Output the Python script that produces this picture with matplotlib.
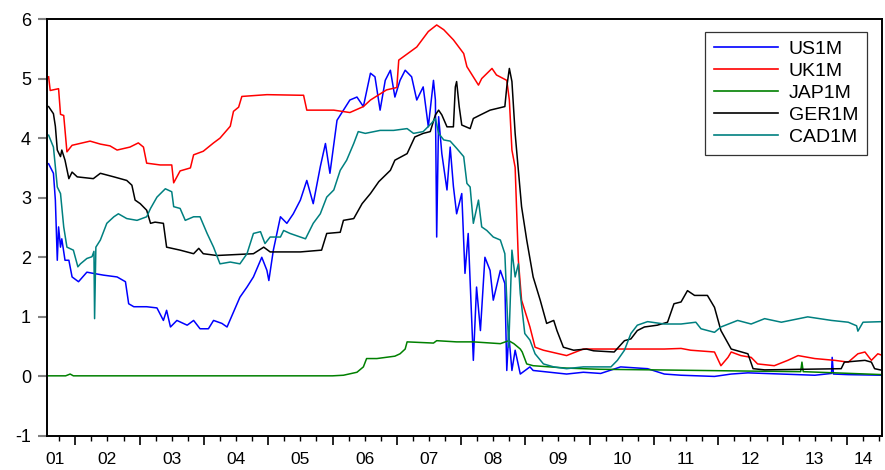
import matplotlib
matplotlib.use("Agg")
import matplotlib.pyplot as plt
import matplotlib.transforms as mtransforms

plt.rcParams['font.family'] = ['Liberation Sans', 'DejaVu Sans']

# ---------------- data (decimal year, percent) ----------------
us_t = [2001.585, 2001.66, 2001.69, 2001.72, 2001.74, 2001.77, 2001.79, 2001.84, 2001.90, 2001.95,
        2002.05, 2002.18, 2002.28, 2002.44, 2002.65, 2002.78, 2002.83, 2002.91, 2003.11, 2003.27,
        2003.37, 2003.42, 2003.48, 2003.58, 2003.74, 2003.84, 2003.94, 2004.07, 2004.15, 2004.28,
        2004.36, 2004.46, 2004.56, 2004.67, 2004.77, 2004.90, 2004.98, 2005.01, 2005.08, 2005.19,
        2005.29, 2005.39, 2005.50, 2005.60, 2005.70, 2005.81, 2005.89, 2005.96, 2006.07, 2006.17,
        2006.27, 2006.38, 2006.48, 2006.59, 2006.66, 2006.74, 2006.82, 2006.90, 2006.97, 2007.05,
        2007.13, 2007.23, 2007.31, 2007.41, 2007.49, 2007.57, 2007.60, 2007.62, 2007.65, 2007.70,
        2007.78, 2007.83, 2007.88, 2007.93, 2008.01, 2008.06, 2008.11, 2008.19, 2008.24, 2008.30,
        2008.37, 2008.45, 2008.50, 2008.61, 2008.68, 2008.71, 2008.74, 2008.79, 2008.84, 2008.92,
        2009.07, 2009.12, 2009.38, 2009.64, 2009.90, 2010.17, 2010.48, 2010.90, 2011.16, 2011.42,
        2011.94, 2012.20, 2012.46, 2012.98, 2013.50, 2013.76, 2013.77, 2013.79, 2014.02, 2014.56]
us_v = [3.57, 3.41, 2.96, 1.95, 2.51, 2.17, 2.31, 1.95, 1.95, 1.67,
        1.59, 1.75, 1.73, 1.70, 1.67, 1.59, 1.22, 1.17, 1.17, 1.15,
        0.94, 1.11, 0.83, 0.94, 0.86, 0.94, 0.80, 0.80, 0.94, 0.89,
        0.83, 1.08, 1.33, 1.50, 1.67, 2.00, 1.78, 1.61, 2.12, 2.68,
        2.57, 2.73, 2.96, 3.29, 2.90, 3.52, 3.91, 3.41, 4.30, 4.47,
        4.64, 4.69, 4.53, 5.09, 5.03, 4.47, 4.97, 5.14, 4.69, 4.97,
        5.14, 5.03, 4.64, 4.86, 4.19, 4.97, 4.64, 2.34, 4.36, 3.74,
        3.13, 3.85, 3.19, 2.73, 3.07, 1.73, 2.40, 0.27, 1.50, 0.77,
        2.00, 1.78, 1.28, 1.78, 1.56, 0.10, 0.72, 0.10, 0.44, 0.04,
        0.16, 0.10, 0.07, 0.04, 0.07, 0.05, 0.16, 0.13, 0.04, 0.02,
        0.00, 0.04, 0.06, 0.04, 0.02, 0.05, 0.32, 0.04, 0.03, 0.02]

uk_t = [2001.585, 2001.61, 2001.74, 2001.77, 2001.82, 2001.87, 2001.95, 2002.23, 2002.39, 2002.54,
        2002.65, 2002.85, 2002.98, 2003.06, 2003.11, 2003.32, 2003.50, 2003.53, 2003.63, 2003.79,
        2003.84, 2003.99, 2004.15, 2004.25, 2004.41, 2004.46, 2004.54, 2004.59, 2004.98, 2005.50,
        2005.55, 2005.60, 2006.02, 2006.27, 2006.48, 2006.59, 2006.84, 2007.00, 2007.03, 2007.31,
        2007.49, 2007.62, 2007.73, 2007.88, 2008.04, 2008.09, 2008.27, 2008.32, 2008.48, 2008.55,
        2008.71, 2008.75, 2008.79, 2008.84, 2008.89, 2008.94, 2009.07, 2009.15, 2009.28, 2009.64,
        2009.90, 2010.38, 2011.16, 2011.42, 2011.57, 2011.94, 2012.04, 2012.15, 2012.20, 2012.35,
        2012.51, 2012.61, 2012.87, 2013.08, 2013.24, 2013.50, 2013.81, 2014.02, 2014.17, 2014.28,
        2014.38, 2014.48, 2014.56]
uk_v = [5.03, 4.80, 4.83, 4.40, 4.38, 3.77, 3.88, 3.95, 3.90, 3.87,
        3.80, 3.85, 3.92, 3.85, 3.58, 3.55, 3.55, 3.25, 3.45, 3.50,
        3.72, 3.78, 3.92, 4.00, 4.20, 4.45, 4.52, 4.70, 4.73, 4.72,
        4.72, 4.47, 4.47, 4.43, 4.53, 4.64, 4.81, 4.85, 5.31, 5.53,
        5.79, 5.90, 5.82, 5.65, 5.42, 5.20, 4.89, 5.00, 5.17, 5.06,
        4.97, 4.64, 3.80, 3.51, 1.95, 1.28, 0.83, 0.49, 0.44, 0.35,
        0.46, 0.46, 0.46, 0.47, 0.44, 0.41, 0.18, 0.32, 0.41, 0.35,
        0.32, 0.21, 0.18, 0.27, 0.35, 0.30, 0.27, 0.24, 0.38, 0.41,
        0.27, 0.38, 0.35]

jap_t = [2001.585, 2001.85, 2001.92, 2001.97, 2006.00, 2006.17, 2006.38, 2006.48, 2006.53, 2006.69,
         2006.97, 2007.05, 2007.13, 2007.16, 2007.57, 2007.62, 2007.93, 2008.19, 2008.61, 2008.74,
         2008.82, 2008.92, 2008.95, 2009.02, 2009.12, 2009.38, 2009.64, 2010.16, 2011.00, 2012.46,
         2013.28, 2013.30, 2013.32, 2014.56]
jap_v = [0.01, 0.01, 0.04, 0.01, 0.01, 0.02, 0.07, 0.16, 0.30, 0.30,
         0.34, 0.38, 0.46, 0.58, 0.56, 0.60, 0.58, 0.58, 0.55, 0.60,
         0.55, 0.46, 0.41, 0.21, 0.18, 0.16, 0.14, 0.12, 0.11, 0.09,
         0.08, 0.24, 0.08, 0.03]

ger_t = [2001.585, 2001.66, 2001.69, 2001.72, 2001.77, 2001.79, 2001.84, 2001.90, 2001.95, 2002.03,
         2002.28, 2002.39, 2002.60, 2002.80, 2002.88, 2002.93, 2003.01, 2003.11, 2003.17, 2003.24,
         2003.37, 2003.42, 2003.63, 2003.84, 2003.92, 2003.99, 2004.20, 2004.77, 2004.93, 2005.03,
         2005.50, 2005.83, 2005.91, 2006.12, 2006.17, 2006.33, 2006.46, 2006.59, 2006.72, 2006.90,
         2006.97, 2007.16, 2007.28, 2007.41, 2007.52, 2007.60, 2007.65, 2007.70, 2007.78, 2007.88,
         2007.91, 2007.93, 2007.97, 2008.01, 2008.14, 2008.19, 2008.30, 2008.45, 2008.68, 2008.71,
         2008.75, 2008.79, 2008.84, 2008.89, 2008.94, 2009.02, 2009.12, 2009.23, 2009.33, 2009.44,
         2009.49, 2009.59, 2009.75, 2009.95, 2010.06, 2010.38, 2010.54, 2010.64, 2010.74, 2010.85,
         2011.05, 2011.21, 2011.31, 2011.42, 2011.52, 2011.63, 2011.83, 2011.94, 2012.04, 2012.20,
         2012.46, 2012.54, 2012.72, 2013.91, 2013.96, 2014.28, 2014.38, 2014.43, 2014.56]
ger_v = [4.53, 4.41, 4.20, 3.80, 3.69, 3.80, 3.63, 3.32, 3.43, 3.35,
         3.32, 3.41, 3.35, 3.29, 3.21, 2.96, 2.90, 2.79, 2.57, 2.59,
         2.57, 2.17, 2.12, 2.06, 2.15, 2.06, 2.03, 2.06, 2.17, 2.09,
         2.09, 2.12, 2.40, 2.42, 2.62, 2.65, 2.90, 3.07, 3.27, 3.46,
         3.63, 3.74, 4.02, 4.08, 4.11, 4.39, 4.47, 4.39, 4.19, 4.19,
         4.86, 4.95, 4.53, 4.22, 4.16, 4.33, 4.39, 4.47, 4.53, 4.86,
         5.17, 4.95, 4.08, 3.46, 2.85, 2.29, 1.67, 1.28, 0.89, 0.94,
         0.77, 0.49, 0.44, 0.46, 0.43, 0.41, 0.60, 0.63, 0.77, 0.83,
         0.86, 0.91, 1.22, 1.25, 1.44, 1.36, 1.36, 1.16, 0.77, 0.46,
         0.38, 0.13, 0.11, 0.13, 0.24, 0.27, 0.24, 0.13, 0.10]

cad_t = [2001.585, 2001.66, 2001.69, 2001.72, 2001.77, 2001.82, 2001.87, 2001.97, 2002.04, 2002.08,
         2002.18, 2002.26, 2002.29, 2002.30, 2002.32, 2002.39, 2002.49, 2002.60, 2002.67, 2002.80,
         2002.96, 2003.11, 2003.17, 2003.27, 2003.40, 2003.50, 2003.53, 2003.63, 2003.71, 2003.84,
         2003.94, 2004.05, 2004.15, 2004.25, 2004.41, 2004.56, 2004.67, 2004.77, 2004.88, 2004.95,
         2005.03, 2005.19, 2005.24, 2005.34, 2005.50, 2005.58, 2005.70, 2005.81, 2005.91, 2006.02,
         2006.12, 2006.22, 2006.33, 2006.40, 2006.51, 2006.74, 2006.95, 2007.16, 2007.26, 2007.41,
         2007.54, 2007.60, 2007.65, 2007.73, 2007.83, 2007.93, 2008.04, 2008.09, 2008.14, 2008.19,
         2008.27, 2008.32, 2008.40, 2008.50, 2008.61, 2008.68, 2008.74, 2008.79, 2008.84, 2008.89,
         2008.92, 2008.99, 2009.07, 2009.15, 2009.28, 2009.44, 2009.64, 2009.90, 2010.33, 2010.43,
         2010.54, 2010.64, 2010.74, 2010.90, 2011.16, 2011.42, 2011.65, 2011.73, 2011.94, 2012.04,
         2012.30, 2012.51, 2012.72, 2012.98, 2013.39, 2013.76, 2014.02, 2014.15, 2014.17, 2014.25,
         2014.56]
cad_v = [4.05, 3.85, 3.52, 3.18, 3.07, 2.51, 2.17, 2.12, 1.84, 1.89,
         1.98, 2.01, 2.10, 0.97, 2.17, 2.29, 2.57, 2.68, 2.73, 2.65,
         2.62, 2.68, 2.82, 3.01, 3.15, 3.10, 2.85, 2.82, 2.62, 2.68,
         2.68, 2.40, 2.17, 1.89, 1.92, 1.89, 2.06, 2.40, 2.43, 2.23,
         2.34, 2.34, 2.45, 2.40, 2.34, 2.31, 2.57, 2.73, 3.01, 3.13,
         3.46, 3.63, 3.91, 4.11, 4.08, 4.13, 4.13, 4.16, 4.08, 4.11,
         4.25, 4.33, 4.08, 3.97, 3.95, 3.83, 3.69, 3.24, 3.18, 2.57,
         2.96, 2.51, 2.45, 2.34, 2.29, 2.06, 0.49, 2.12, 1.67, 1.89,
         1.39, 0.72, 0.61, 0.38, 0.21, 0.16, 0.13, 0.16, 0.16, 0.27,
         0.44, 0.72, 0.86, 0.92, 0.88, 0.88, 0.91, 0.80, 0.74, 0.83,
         0.94, 0.88, 0.97, 0.91, 1.00, 0.94, 0.91, 0.85, 0.76, 0.91,
         0.92]

series_names = ["US1M", "UK1M", "JAP1M", "GER1M", "CAD1M"]
series_colors = ["#0000FF", "#FF0000", "#008000", "#000000", "#008080"]

year_ticks = list(range(2002, 2015))
year_labels = ["01", "02", "03", "04", "05", "06", "07", "08", "09", "10", "11", "12", "13", "14"]
label_pos = [2001.69] + [y + 0.5 for y in range(2002, 2014)] + [2014.26]
y_ticks = [-1, 0, 1, 2, 3, 4, 5, 6]

# ---------------- figure ----------------
fig = plt.figure(figsize=(8.85, 4.70), dpi=100)
ax = fig.add_axes([47/885, 34/470, 835/885, 417/470])

data = [(us_t, us_v), (uk_t, uk_v), (jap_t, jap_v), (ger_t, ger_v), (cad_t, cad_v)]
for (t, v), name, col in zip(data, series_names, series_colors):
    ax.plot(t, v, color=col, lw=1.1, label=name)

ax.set_xlim(2001.56, 2014.545)
ax.set_ylim(-1, 6)

ax.set_yticks(y_ticks)
ax.set_yticklabels([str(v) for v in y_ticks], fontsize=13)
ax.tick_params(axis='y', direction='out', length=6.5, width=1.5, color='#808080', pad=5)

ax.set_xticks(year_ticks)
ax.set_xticklabels([])
ax.set_xticks([y + q / 4 for y in range(2001, 2015) for q in range(4)
               if 2001.56 <= y + q / 4 <= 2014.545 and q != 0], minor=True)
ax.tick_params(axis='x', which='major', direction='out', length=6.5, width=1.2, color='black')
ax.tick_params(axis='x', which='minor', direction='out', length=3.6, width=1.0, color='black')

trans = mtransforms.blended_transform_factory(ax.transData, ax.transAxes)
for p, lab in zip(label_pos, year_labels):
    ax.text(p, -0.068, lab, transform=trans, ha='center', va='baseline', fontsize=12.5)

for s in ax.spines.values():
    s.set_linewidth(1.4)
    s.set_color('black')

leg = ax.legend(loc='upper right', bbox_to_anchor=(0.982, 0.969), borderaxespad=0,
                fontsize=14, frameon=True, fancybox=False, shadow=False,
                handlelength=3.3, handletextpad=0.55, labelspacing=0.22,
                borderpad=0.45)
leg.get_frame().set_edgecolor('black')
leg.get_frame().set_linewidth(0.9)
for line in leg.get_lines():
    line.set_linewidth(1.2)

fig.savefig("out.png", dpi=100)
